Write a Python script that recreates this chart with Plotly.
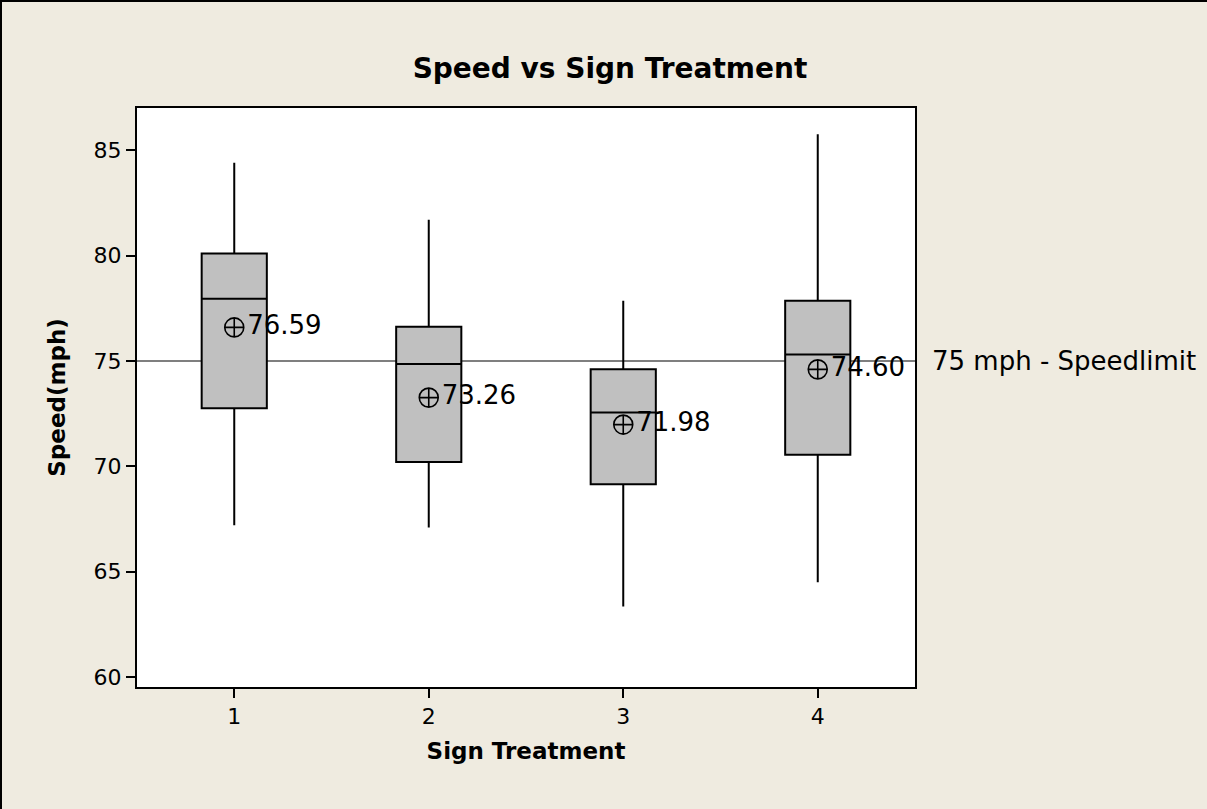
import plotly.graph_objects as go

# Data
treatments = [1, 2, 3, 4]
lower_whisker = [67.2, 67.1, 63.35, 64.5]
q1 = [72.75, 70.2, 69.15, 70.55]
median = [77.95, 74.85, 72.55, 75.3]
q3 = [80.1, 76.62, 74.6, 77.85]
upper_whisker = [84.4, 81.7, 77.85, 85.75]
means = [76.59, 73.26, 71.98, 74.60]
mean_labels = ["76.59", "73.26", "71.98", "74.60"]
speed_limit = 75
speed_limit_label = "75 mph - Speedlimit"

W, H = 1207, 809
ML, MR, MT, MB = 137, 292, 108, 122
PW = W - ML - MR
PH = H - MT - MB

fig = go.Figure()

fig.add_trace(go.Box(
    x=treatments,
    q1=q1, median=median, q3=q3,
    lowerfence=lower_whisker, upperfence=upper_whisker,
    width=0.335,
    whiskerwidth=0,
    fillcolor="#C0C0C0",
    line=dict(color="black", width=2),
    boxpoints=False,
    hoverinfo="skip",
    showlegend=False,
))

fig.add_trace(go.Scatter(
    x=treatments, y=means,
    mode="markers+text",
    marker=dict(symbol="circle-cross-open", size=19, color="black",
                line=dict(width=1.6, color="black")),
    text=mean_labels,
    textposition="middle right",
    textfont=dict(family="DejaVu Sans", size=26, color="black"),
    showlegend=False,
    cliponaxis=False,
    hoverinfo="skip",
))

fig.add_shape(type="line", xref="paper", x0=0, x1=1, yref="y",
              y0=speed_limit, y1=speed_limit,
              line=dict(color="#555555", width=1.5), layer="below")

fig.add_annotation(xref="paper", x=1 + 15 / PW, yref="y", y=speed_limit,
                   text=speed_limit_label, showarrow=False,
                   xanchor="left", yanchor="middle",
                   font=dict(family="DejaVu Sans", size=26, color="black"))

# outer border (left and top edges)
fig.add_shape(type="line", xref="paper", yref="paper",
              x0=-ML / PW + 1 / PW, x1=-ML / PW + 1 / PW,
              y0=1 + MT / PH, y1=-MB / PH,
              line=dict(color="black", width=2))
fig.add_shape(type="line", xref="paper", yref="paper",
              x0=-ML / PW, x1=1 + MR / PW,
              y0=1 + MT / PH - 1 / PH, y1=1 + MT / PH - 1 / PH,
              line=dict(color="black", width=2))

fig.update_layout(
    width=W, height=H,
    margin=dict(l=ML, r=MR, t=MT, b=MB, pad=0),
    paper_bgcolor="#EFEBE0",
    plot_bgcolor="white",
    title=dict(text="<b>Speed vs Sign Treatment</b>", x=(415 + 805) / 2 / W,
               xanchor="center", y=1 - 68 / H, yanchor="middle",
               font=dict(family="DejaVu Sans", size=28, color="black")),
    font=dict(family="DejaVu Sans", color="black"),
)

fig.update_xaxes(
    range=[0.5, 4.5], tickvals=treatments, ticktext=[str(t) for t in treatments],
    ticks="outside", ticklen=9, tickwidth=1.5, tickcolor="black",
    showline=True, linecolor="black", linewidth=2, mirror=True,
    showgrid=False, zeroline=False,
    tickfont=dict(family="DejaVu Sans", size=22, color="black"),
    title=dict(text="<b>Sign Treatment</b>", standoff=14,
               font=dict(family="DejaVu Sans", size=23, color="black")),
)

fig.update_yaxes(
    range=[59.53, 87.0], tickvals=[60, 65, 70, 75, 80, 85],
    ticks="outside", ticklen=9, tickwidth=1.5, tickcolor="black",
    showline=True, linecolor="black", linewidth=2, mirror=True,
    showgrid=False, zeroline=False,
    tickfont=dict(family="DejaVu Sans", size=22, color="black"),
    title=dict(text="<b>Speed(mph)</b>", standoff=22,
               font=dict(family="DejaVu Sans", size=23, color="black")),
)

fig.write_html("out.html",
               config={"displayModeBar": False},
               post_script="document.body.style.margin='0px';"
                           "document.body.style.overflow='hidden';")
